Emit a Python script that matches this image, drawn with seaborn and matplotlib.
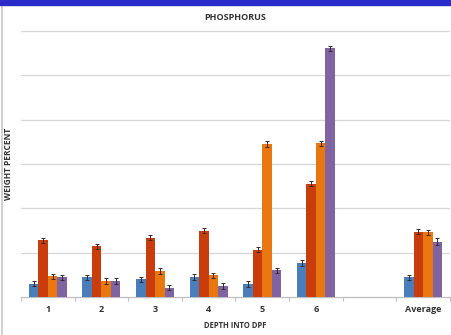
import numpy as np
import pandas as pd
import matplotlib
matplotlib.use("Agg")
import matplotlib.pyplot as plt
from matplotlib.patches import Rectangle
from matplotlib.lines import Line2D
import seaborn as sns

# Depth positions into the DPF, a blank spacer slot, then the average
categories = ["1", "2", "3", "4", "5", "6", "", "Average"]
series = ["S1", "S2", "S3", "S4"]

# Weight percent per series (None = no bar in the spacer slot)
s1_vals = [0.30, 0.44, 0.40, 0.45, 0.29, 0.77, None, 0.44]
s2_vals = [1.28, 1.14, 1.34, 1.50, 1.07, 2.56, None, 1.47]
s3_vals = [0.47, 0.36, 0.59, 0.49, 3.45, 3.47, None, 1.46]
s4_vals = [0.44, 0.36, 0.21, 0.25, 0.60, 5.61, None, 1.25]

s1_err = [0.06, 0.06, 0.06, 0.06, 0.06, 0.06, None, 0.06]
s2_err = [0.06, 0.06, 0.06, 0.06, 0.06, 0.06, None, 0.06]
s3_err = [0.06, 0.06, 0.06, 0.06, 0.06, 0.06, None, 0.06]
s4_err = [0.06, 0.06, 0.06, 0.06, 0.06, 0.06, None, 0.07]

colors = ["#4A7EBB", "#C93C0B", "#E8770F", "#8064A2"]

rows = []
for name, vals, errs in zip(series, [s1_vals, s2_vals, s3_vals, s4_vals],
                            [s1_err, s2_err, s3_err, s4_err]):
    for cat, v, e in zip(categories, vals, errs):
        if v is not None:
            rows.append({"depth": cat, "series": name, "value": v, "err": e})
df = pd.DataFrame(rows)

sns.set_theme(style="white")
plt.rcParams["font.family"] = ["Open Sans", "DejaVu Sans"]

W, H = 452, 335
fig = plt.figure(figsize=(W / 100, H / 100), dpi=100)
ax = fig.add_axes([21 / W, (H - 297) / H, (450 - 21) / W, (297 - 31) / H])

sns.barplot(data=df, x="depth", y="value", hue="series", order=categories,
            hue_order=series, palette=colors, width=0.71, errorbar=None,
            saturation=1, legend=False, ax=ax, linewidth=0, zorder=3)

# Error bars placed on each drawn bar
for name, cont in zip(series, ax.containers):
    sub = df[df["series"] == name].set_index("depth")
    for bar in cont:
        xc = bar.get_x() + bar.get_width() / 2
        cat = categories[int(round(xc))]
        if cat not in sub.index:
            continue
        ax.errorbar(xc, bar.get_height(), yerr=sub.loc[cat, "err"],
                    fmt="none", ecolor="#3A2A2A", elinewidth=0.7,
                    capsize=1.6, capthick=0.7, zorder=4)

ax.set_ylim(0, 6)
ax.set_xlim(-0.5, len(categories) - 0.5)
ax.set_yticks(np.arange(1, 7))
ax.set_yticklabels([])
ax.tick_params(axis="y", length=0)
ax.yaxis.grid(True, color="#D6D6D6", linewidth=0.9, zorder=0)
ax.set_axisbelow(True)

ax.set_xticks(range(len(categories)))
ax.set_xticklabels(categories, fontsize=6.5, fontweight="bold", color="#333333")
ax.set_xticks(np.arange(-0.5, len(categories)), minor=True)
ax.tick_params(axis="x", which="major", length=0, pad=6)
ax.tick_params(axis="x", which="minor", length=3, color="#BFBFBF", width=0.8,
               direction="out", bottom=True)

for side in ["top", "right", "left"]:
    ax.spines[side].set_visible(False)
ax.spines["bottom"].set_color("#BFBFBF")
ax.spines["bottom"].set_linewidth(0.9)

ax.set_xlabel("DEPTH INTO DPF", fontsize=5.5, fontweight="bold",
              color="#333333", labelpad=5)
ax.set_ylabel("WEIGHT PERCENT", fontsize=6, fontweight="bold",
              color="#333333", labelpad=0)
ax.yaxis.set_label_coords(-8 / (450 - 21), 0.5)

fig.text(235 / W, 1 - 17 / H, "PHOSPHORUS", ha="center", va="center",
         fontsize=6.5, fontweight="bold", color="#333333")

# Slide frame: blue band across the top and a gray left edge
fig.patches.append(Rectangle((0, 1 - 5 / H), 1, 5 / H, transform=fig.transFigure,
                             color="#2B2BC9", zorder=10))
fig.lines.append(Line2D([2.5 / W, 2.5 / W], [0, 1 - 5 / H], transform=fig.transFigure,
                        color="#C8C8C8", linewidth=1.2))

fig.savefig("out.png", dpi=100)
